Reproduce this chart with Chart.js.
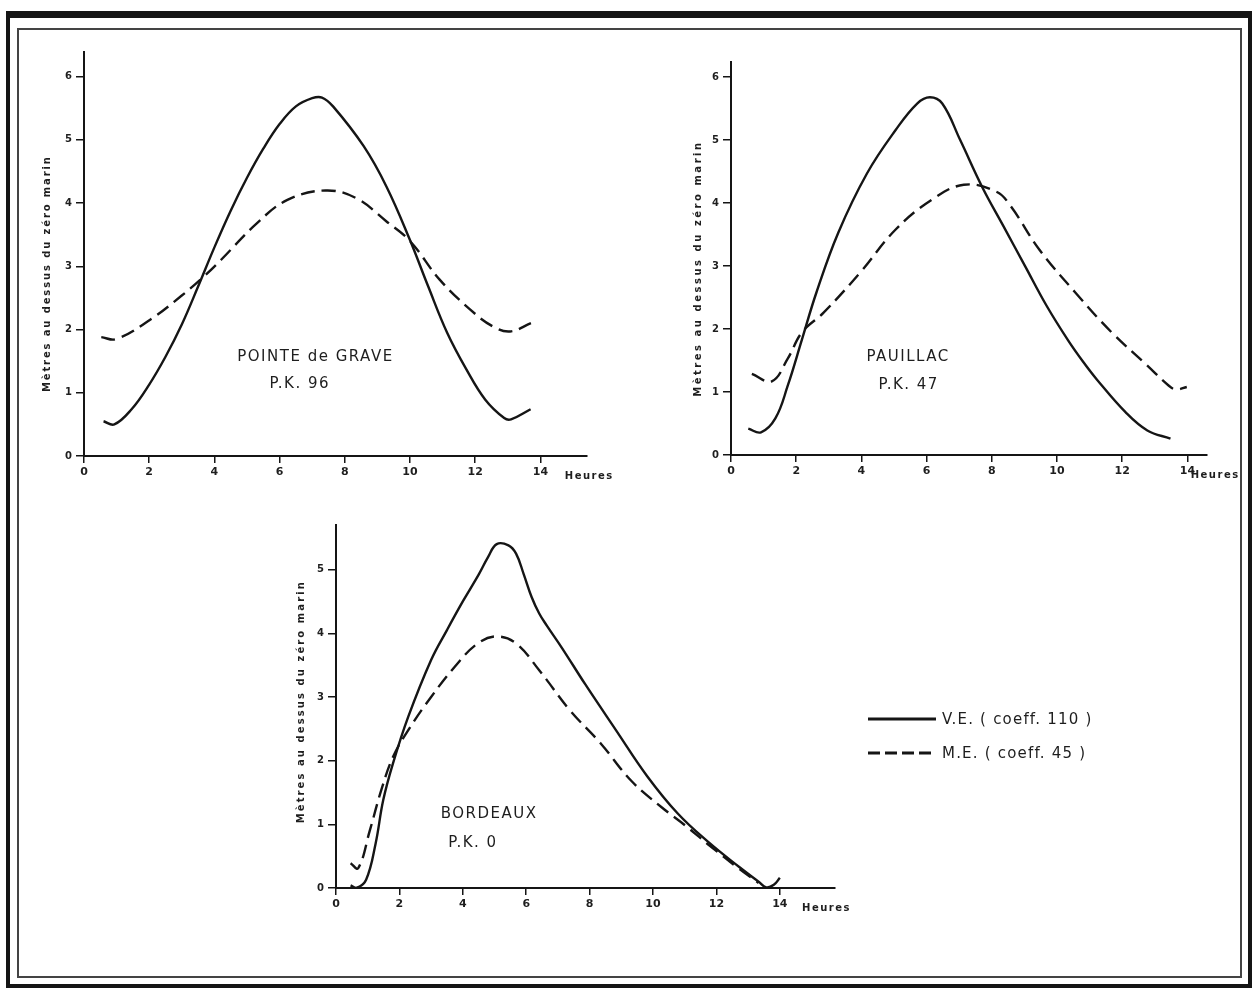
<!DOCTYPE html>
<html>
<head>
<meta charset="utf-8">
<title>Marées de vive-eau et de morte-eau - Gironde</title>
<script src="https://cdn.jsdelivr.net/npm/chart.js@4.4.1/dist/chart.umd.min.js"></script>
<style>
  body { margin: 0; background: #fff; width: 1259px; height: 992px; position: relative; overflow: hidden; font-family: "DejaVu Sans", sans-serif; }
  .frame-outer { position: absolute; left: 6px; top: 11px; width: 1246px; height: 977px; box-sizing: border-box; border: 4px solid #151515; border-top-width: 7px; }
  .frame-inner { position: absolute; left: 17px; top: 28px; width: 1225px; height: 950px; box-sizing: border-box; border: 2px solid #444; }
  canvas { position: absolute; }
  .legend { position: absolute; left: 868px; top: 702px; color: #1e1e1e; font-size: 15px; letter-spacing: 1.2px; }
  .legend div { height: 34px; display: flex; align-items: center; }
  .legend svg { margin-right: 6px; }
</style>
</head>
<body>
<div class="frame-outer"></div>
<div class="frame-inner"></div>
<canvas id="grave"></canvas>
<canvas id="pauillac"></canvas>
<canvas id="bordeaux"></canvas>
<div class="legend">
  <div><svg width="68" height="6"><line x1="0" y1="3" x2="68" y2="3" stroke="#151515" stroke-width="3"/></svg><span id="lgVE"></span></div>
  <div><svg width="68" height="6"><line x1="0" y1="3" x2="68" y2="3" stroke="#151515" stroke-width="3" stroke-dasharray="12 5"/></svg><span id="lgME"></span></div>
</div>
<script>
// ---- data (hours after low water, metres above chart datum)
var seriesNames = ['V.E. ( coeff. 110 )', 'M.E. ( coeff. 45 )'];
var stationNames = ['POINTE de GRAVE', 'PAUILLAC', 'BORDEAUX'];
var stationPK = ['P.K. 96', 'P.K. 47', 'P.K. 0'];
var yTitle = 'Mètres au dessus du zéro marin';
var unitLabel = 'Heures';
var xTicks = [0, 2, 4, 6, 8, 10, 12, 14];
var yTicksGrave = [0, 1, 2, 3, 4, 5, 6];
var yTicksPauillac = [0, 1, 2, 3, 4, 5, 6];
var yTicksBordeaux = [0, 1, 2, 3, 4, 5];

// Pointe de Grave
var graveHoursVE = [0.6, 0.93, 1.46, 2.0, 2.5, 3.0, 3.5, 4.0, 4.5, 5.0, 5.5, 6.0, 6.5, 7.0, 7.3, 7.64, 8.58, 9.28, 9.98, 10.56, 11.14, 11.73, 12.31, 12.89, 13.1, 13.7];
var graveVE      = [0.55, 0.5, 0.74, 1.13, 1.57, 2.08, 2.68, 3.3, 3.88, 4.4, 4.86, 5.25, 5.53, 5.66, 5.67, 5.53, 4.9, 4.26, 3.44, 2.68, 1.95, 1.37, 0.89, 0.6, 0.58, 0.74];
var graveHoursME = [0.53, 0.99, 2.04, 2.98, 3.68, 4.2, 5.3, 6.24, 7.41, 8.34, 9.28, 10.0, 10.91, 11.84, 12.54, 13.07, 13.71];
var graveME      = [1.88, 1.85, 2.16, 2.53, 2.84, 3.1, 3.68, 4.05, 4.2, 4.08, 3.71, 3.40, 2.79, 2.32, 2.05, 1.97, 2.1];

// Pauillac
var pauillacHoursVE = [0.53, 0.92, 1.36, 1.74, 2.18, 2.62, 3.29, 4.17, 5.05, 5.71, 6.1, 6.48, 7.03, 7.7, 8.36, 9.02, 9.68, 10.34, 10.8, 11.22, 12.1, 12.77, 13.48];
var pauillacVE      = [0.42, 0.36, 0.58, 1.1, 1.84, 2.58, 3.53, 4.47, 5.16, 5.58, 5.68, 5.58, 5.0, 4.26, 3.63, 3.0, 2.37, 1.82, 1.48, 1.2, 0.68, 0.39, 0.26];
var pauillacHoursME = [0.64, 1.25, 1.74, 2.18, 2.84, 3.95, 5.05, 6.15, 7.14, 8.14, 8.58, 9.46, 10.56, 11.67, 12.77, 13.43, 13.65, 13.98];
var pauillacME      = [1.29, 1.17, 1.53, 1.95, 2.26, 2.89, 3.58, 4.05, 4.29, 4.18, 3.95, 3.26, 2.58, 1.95, 1.42, 1.1, 1.04, 1.08];

// Bordeaux
var bordeauxHoursVE = [0.46, 0.64, 0.95, 1.25, 1.49, 1.8, 2.28, 3.0, 3.5, 4.0, 4.5, 4.8, 5.07, 5.44, 5.68, 5.92, 6.17, 6.41, 6.65, 7.14, 7.86, 8.83, 9.81, 10.78, 11.75, 12.72, 13.33, 13.57, 13.81, 14.0];
var bordeauxVE      = [0.04, 0.0, 0.13, 0.7, 1.38, 1.96, 2.69, 3.58, 4.05, 4.5, 4.92, 5.2, 5.4, 5.38, 5.25, 4.93, 4.57, 4.31, 4.12, 3.76, 3.2, 2.48, 1.76, 1.17, 0.72, 0.33, 0.1, 0.01, 0.05, 0.16];
var bordeauxHoursME = [0.46, 0.7, 1.07, 1.43, 1.8, 2.28, 3.0, 3.74, 4.47, 5.07, 5.68, 6.41, 7.38, 8.35, 9.32, 10.29, 11.02, 11.75, 12.72, 13.33];
var bordeauxME      = [0.39, 0.31, 0.91, 1.54, 2.06, 2.48, 3.0, 3.47, 3.84, 3.95, 3.84, 3.42, 2.79, 2.27, 1.68, 1.26, 0.98, 0.68, 0.3, 0.08];

document.getElementById('lgVE').textContent = seriesNames[0];
document.getElementById('lgME').textContent = seriesNames[1];

var INK = '#151515';
var Y_W = 64, PAD_T = 12, X_H = 32, PAD_R = 60;

// draws the station names, the "Heures" unit and the spaced-out y title
var paperText = {
  id: 'paperText',
  afterDraw: function(chart, args, opts) {
    var ctx = chart.ctx, xs = chart.scales.x, ys = chart.scales.y;
    ctx.save();
    ctx.fillStyle = '#1e1e1e';
    ctx.textAlign = 'center';
    ctx.textBaseline = 'middle';
    ctx.font = '15px "DejaVu Sans"';
    ctx.letterSpacing = '1.5px';
    opts.labels.forEach(function(l) {
      ctx.fillText(l.text, xs.getPixelForValue(l.x), ys.getPixelForValue(l.y));
    });

    ctx.textAlign = 'left';
    ctx.font = 'bold 10px "DejaVu Sans"';
    ctx.letterSpacing = '1.5px';
    ctx.fillText(unitLabel, xs.getPixelForValue(opts.unitAt), xs.top + 20);

    // vertical title
    ctx.font = 'bold 10px "DejaVu Sans"';
    ctx.letterSpacing = '0px';
    var w = ctx.measureText(yTitle).width;
    var sp = Math.max(0, (opts.titleLen - w) / (yTitle.length - 1));
    ctx.letterSpacing = sp + 'px';
    ctx.translate(xs.left - opts.titleGap, ys.getPixelForValue(opts.titleAt));
    ctx.rotate(-Math.PI / 2);
    ctx.textAlign = 'center';
    ctx.fillText(yTitle, sp / 2, 0);
    ctx.restore();
  }
};

function pts(hours, vals) {
  return hours.map(function(h, i) { return { x: h, y: vals[i] }; });
}

function makeChart(id, box, xMax, yMax, yTicks, ve, me, textOpts) {
  var cv = document.getElementById(id);
  var left = box.left - Y_W, top = box.top - PAD_T;
  var w = box.right + PAD_R - left, h = box.bottom + X_H - top;
  cv.style.left = left + 'px';
  cv.style.top = top + 'px';
  cv.width = w; cv.height = h;
  cv.style.width = w + 'px'; cv.style.height = h + 'px';

  return new Chart(cv.getContext('2d'), {
    type: 'scatter',
    data: {
      datasets: [
        { label: seriesNames[0], data: ve, showLine: true, borderColor: INK, borderWidth: 2.4,
          pointRadius: 0, tension: 0.4, fill: false },
        { label: seriesNames[1], data: me, showLine: true, borderColor: INK, borderWidth: 2.4,
          borderDash: [14, 7], pointRadius: 0, tension: 0.4, fill: false }
      ]
    },
    options: {
      responsive: false,
      animation: false,
      devicePixelRatio: 1,
      layout: { padding: { top: PAD_T, right: PAD_R, left: 0, bottom: 0 } },
      plugins: {
        legend: { display: false },
        tooltip: { enabled: false },
        paperText: textOpts
      },
      scales: {
        x: {
          type: 'linear', min: 0, max: xMax,
          afterBuildTicks: function(s) { s.ticks = xTicks.map(function(v) { return { value: v }; }); },
          afterFit: function(s) { s.height = X_H; },
          grid: { drawOnChartArea: false, drawTicks: true, tickLength: 7, color: INK, lineWidth: 1.5 },
          border: { display: true, color: INK, width: 2 },
          ticks: { color: '#1e1e1e', font: { family: 'DejaVu Sans', size: 11, weight: 'bold' }, padding: 3,
                   maxRotation: 0, autoSkip: false }
        },
        y: {
          type: 'linear', min: 0, max: yMax,
          afterBuildTicks: function(s) { s.ticks = yTicks.map(function(v) { return { value: v }; }); },
          afterFit: function(s) { s.width = Y_W; },
          grid: { drawOnChartArea: false, drawTicks: true, tickLength: 8, color: INK, lineWidth: 1.5 },
          border: { display: true, color: INK, width: 2 },
          ticks: { color: '#1e1e1e', font: { family: 'DejaVu Sans', size: 10, weight: 'bold' }, padding: 4 }
        }
      }
    },
    plugins: [paperText]
  });
}

makeChart('grave', { left: 84, top: 52, right: 587, bottom: 456 }, 15.43, 6.39, yTicksGrave,
  pts(graveHoursVE, graveVE), pts(graveHoursME, graveME),
  { labels: [{ text: stationNames[0], x: 7.1, y: 1.57 }, { text: stationPK[0], x: 6.62, y: 1.14 }],
    unitAt: 14.75, titleGap: 37, titleAt: 2.87, titleLen: 235 });

makeChart('pauillac', { left: 731, top: 62, right: 1207, bottom: 455 }, 14.6, 6.24, yTicksPauillac,
  pts(pauillacHoursVE, pauillacVE), pts(pauillacHoursME, pauillacME),
  { labels: [{ text: stationNames[1], x: 5.43, y: 1.56 }, { text: stationPK[1], x: 5.45, y: 1.11 }],
    unitAt: 14.1, titleGap: 33, titleAt: 2.94, titleLen: 254 });

makeChart('bordeaux', { left: 336, top: 525, right: 835, bottom: 888 }, 15.74, 5.7, yTicksBordeaux,
  pts(bordeauxHoursVE, bordeauxVE), pts(bordeauxHoursME, bordeauxME),
  { labels: [{ text: stationNames[2], x: 4.83, y: 1.16 }, { text: stationPK[2], x: 4.32, y: 0.71 }],
    unitAt: 14.7, titleGap: 35, titleAt: 2.91, titleLen: 241 });
</script>
</body>
</html>
